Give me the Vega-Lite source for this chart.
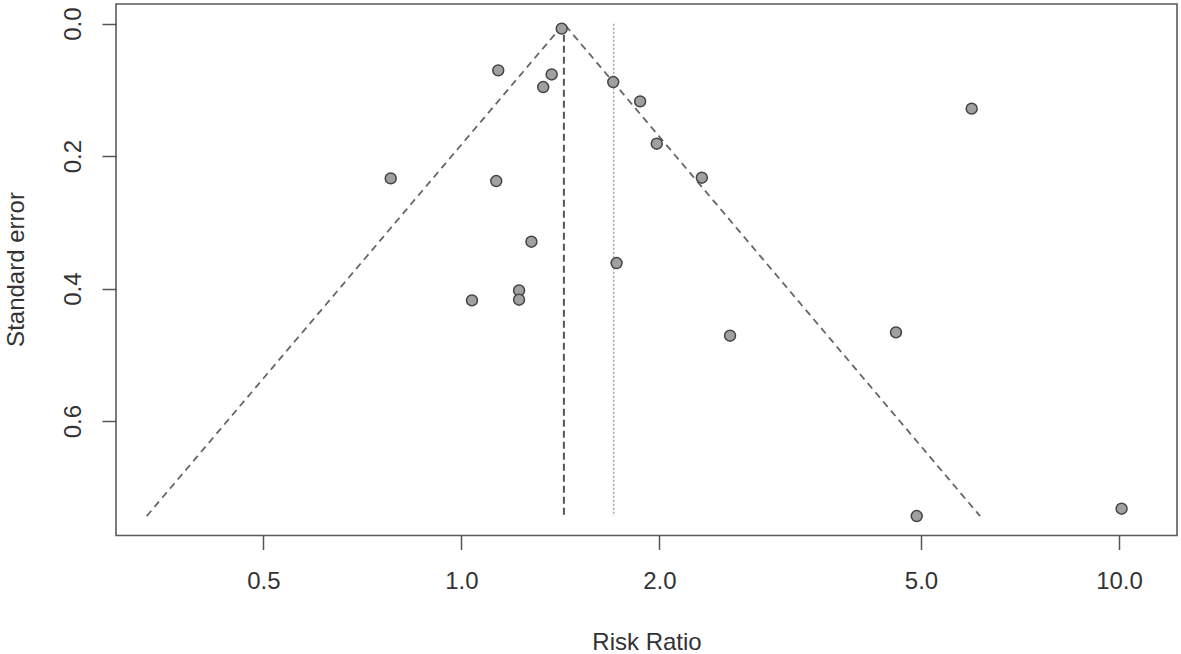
{
  "$schema": "https://vega.github.io/schema/vega-lite/v6.json",
  "autosize": {"type": "none"},
  "padding": {"left": 116, "top": 4, "right": 4, "bottom": 118.5},
  "width": 1061,
  "height": 531.5,
  "background": "white",
  "config": {
    "font": "Liberation Sans",
    "view": {"stroke": "#5a5a5a", "strokeWidth": 1.6},
    "axis": {
      "grid": false,
      "domain": false,
      "ticks": true,
      "tickSize": 14,
      "tickColor": "#555555",
      "tickWidth": 1.5,
      "labelFont": "Liberation Sans",
      "labelFontSize": 24,
      "labelColor": "#333333",
      "titleFont": "Liberation Sans",
      "titleFontSize": 24,
      "titleFontWeight": "normal",
      "titleColor": "#333333"
    }
  },
  "datasets": {
    "studies": [
      {"rr": 1.421, "se": 0.0075},
      {"rr": 1.138, "se": 0.0705},
      {"rr": 1.372, "se": 0.0766},
      {"rr": 1.332, "se": 0.0957},
      {"rr": 1.702, "se": 0.0882},
      {"rr": 1.870, "se": 0.1173},
      {"rr": 5.97, "se": 0.1283},
      {"rr": 1.982, "se": 0.1812},
      {"rr": 0.781, "se": 0.2336},
      {"rr": 1.130, "se": 0.2377},
      {"rr": 2.321, "se": 0.2325},
      {"rr": 1.278, "se": 0.3292},
      {"rr": 1.722, "se": 0.3615},
      {"rr": 1.224, "se": 0.4027},
      {"rr": 1.224, "se": 0.4167},
      {"rr": 1.038, "se": 0.4178},
      {"rr": 2.562, "se": 0.4711},
      {"rr": 4.58, "se": 0.4661},
      {"rr": 4.925, "se": 0.7435},
      {"rr": 10.09, "se": 0.7323}
    ],
    "funnel": [
      {"rr": 0.3324, "se": 0.7435},
      {"rr": 1.432, "se": 0.0},
      {"rr": 6.147, "se": 0.7435}
    ],
    "estimate": [{"rr": 1.432, "se0": 0.0, "se1": 0.7435}],
    "dotted": [{"rr": 1.705, "se0": 0.0, "se1": 0.7435}]
  },
  "layer": [
    {
      "data": {"name": "funnel"},
      "mark": {"type": "line", "color": "#666666", "strokeWidth": 1.8, "strokeDash": [7, 5]},
      "encoding": {
        "x": {"field": "rr", "type": "quantitative",
          "scale": {"type": "log", "domain": [0.2985, 12.25], "nice": false},
          "axis": {"values": [0.5, 1, 2, 5, 10], "format": ".1f", "labelPadding": 20,
            "title": "Risk Ratio", "titleY": 114, "titleBaseline": "alphabetic", "titleAnchor": "middle"}},
        "y": {"field": "se", "type": "quantitative",
          "scale": {"domain": [-0.0297, 0.7728], "reverse": true, "nice": false, "zero": false},
          "axis": {"values": [0, 0.2, 0.4, 0.6], "format": ".1f", "labelAngle": -90,
            "labelAlign": "center", "labelBaseline": "alphabetic", "labelPadding": 22,
            "title": "Standard error", "titleAngle": -90, "titleX": -93, "titleY": 265,
            "titleBaseline": "alphabetic", "titleAlign": "center"}}
      }
    },
    {
      "data": {"name": "estimate"},
      "mark": {"type": "rule", "color": "#555555", "strokeWidth": 2, "strokeDash": [7, 4]},
      "encoding": {
        "x": {"field": "rr", "type": "quantitative"},
        "y": {"field": "se0", "type": "quantitative"},
        "y2": {"field": "se1"}
      }
    },
    {
      "data": {"name": "dotted"},
      "mark": {"type": "rule", "color": "#aaaaaa", "strokeWidth": 1.6, "strokeDash": [2, 2]},
      "encoding": {
        "x": {"field": "rr", "type": "quantitative"},
        "y": {"field": "se0", "type": "quantitative"},
        "y2": {"field": "se1"}
      }
    },
    {
      "data": {"name": "studies"},
      "mark": {"type": "point", "shape": "circle", "filled": false, "fill": "#a0a0a0", "fillOpacity": 1, "stroke": "#444444", "strokeWidth": 1.5, "opacity": 1, "size": 120},
      "encoding": {
        "x": {"field": "rr", "type": "quantitative"},
        "y": {"field": "se", "type": "quantitative"}
      }
    }
  ]
}
